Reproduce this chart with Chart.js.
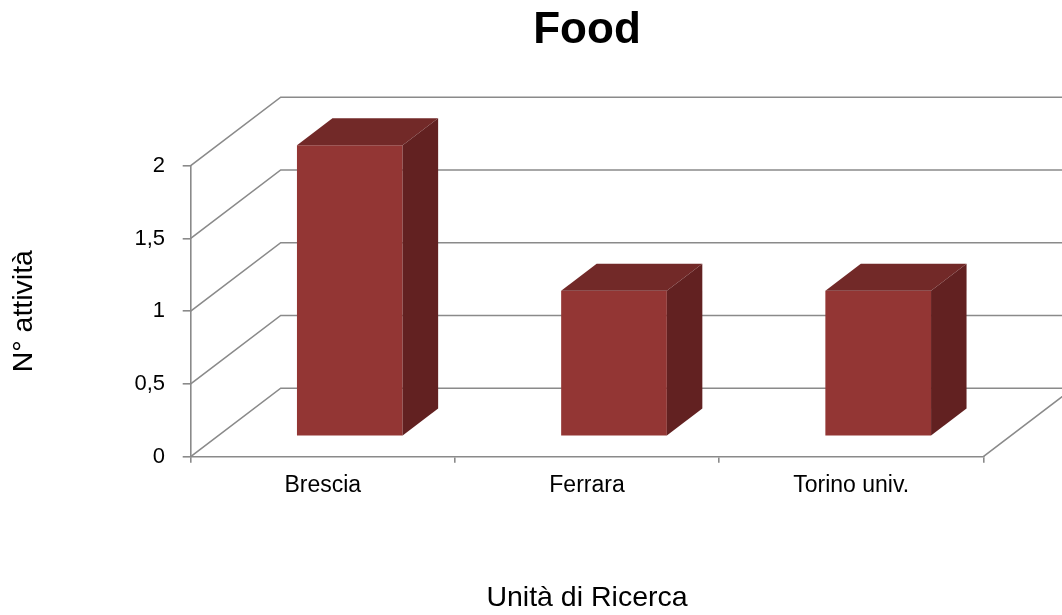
<!DOCTYPE html>
<html>
<head>
<meta charset="utf-8">
<style>
  html, body { margin: 0; padding: 0; background: #ffffff; }
  #wrap { width: 1062px; height: 615px; position: relative; }
</style>
<script src="https://cdn.jsdelivr.net/npm/chart.js@4.4.1/dist/chart.umd.min.js"></script>
</head>
<body>
<div id="wrap"><canvas id="chart"></canvas></div>
<script>
// Data
const categories = ['Brescia', 'Ferrara', 'Torino univ.'];
const activityCounts = [2, 1, 1];
const yTickLabels = ['0', '0,5', '1', '1,5', '2'];
const chartTitle = 'Food';
const xAxisTitle = 'Unità di Ricerca';
const yAxisTitle = 'N° attività';

// Styling
const FONT = "'Liberation Sans', Arial, sans-serif";
const GRID = '#8a8a8a';
const FRONT_COLOR = '#933634';
const TOP_COLOR = '#722928';
const SIDE_COLOR = '#622121';

// Perspective: depth of the walls, position of the bars inside the box, depth of each bar
const WALL_DX = 90, WALL_DY = -68.5;
const BAR_SHIFT_X = 27, BAR_SHIFT_Y = -20.5;
const BAR_DEPTH_X = 35.5, BAR_DEPTH_Y = -27;

// Draws the side wall, back wall and floor, then extrudes each bar into a box
const box3d = {
  id: 'box3d',
  beforeDatasetsDraw(chart) {
    const { ctx, chartArea: a, scales: { y } } = chart;
    ctx.save();
    ctx.strokeStyle = GRID;
    ctx.lineWidth = 1.6;
    ctx.beginPath();
    y.ticks.forEach(t => {
      const py = y.getPixelForValue(t.value);
      ctx.moveTo(a.left, py);
      ctx.lineTo(a.left + WALL_DX, py + WALL_DY);
      ctx.lineTo(a.right + WALL_DX, py + WALL_DY);
    });
    const floor = y.getPixelForValue(0);
    ctx.moveTo(a.right, floor);
    ctx.lineTo(a.right + WALL_DX, floor + WALL_DY);
    ctx.stroke();
    ctx.restore();

    // bars stand part-way back on the floor
    ctx.save();
    ctx.translate(BAR_SHIFT_X, BAR_SHIFT_Y);
  },
  afterDatasetsDraw(chart) {
    const { ctx } = chart;
    chart.getDatasetMeta(0).data.forEach(bar => {
      const { x, y, base, width } = bar.getProps(['x', 'y', 'base', 'width'], true);
      const l = x - width / 2, r = x + width / 2;
      ctx.fillStyle = TOP_COLOR;
      ctx.beginPath();
      ctx.moveTo(l, y);
      ctx.lineTo(l + BAR_DEPTH_X, y + BAR_DEPTH_Y);
      ctx.lineTo(r + BAR_DEPTH_X, y + BAR_DEPTH_Y);
      ctx.lineTo(r, y);
      ctx.closePath();
      ctx.fill();
      ctx.fillStyle = SIDE_COLOR;
      ctx.beginPath();
      ctx.moveTo(r, y);
      ctx.lineTo(r + BAR_DEPTH_X, y + BAR_DEPTH_Y);
      ctx.lineTo(r + BAR_DEPTH_X, base + BAR_DEPTH_Y);
      ctx.lineTo(r, base);
      ctx.closePath();
      ctx.fill();
    });
    ctx.restore();
  }
};

new Chart(document.getElementById('chart'), {
  type: 'bar',
  data: {
    labels: categories,
    datasets: [{
      data: activityCounts,
      backgroundColor: FRONT_COLOR,
      borderWidth: 0,
      clip: false,
      barPercentage: 0.4,
      categoryPercentage: 1
    }]
  },
  options: {
    responsive: true,
    maintainAspectRatio: false,
    animation: false,
    layout: { padding: { left: 0, right: 78.7, top: 0, bottom: 0 } },
    plugins: {
      legend: { display: false },
      tooltip: { enabled: false },
      title: {
        display: true,
        text: chartTitle,
        fullSize: false,
        color: '#000000',
        font: { family: FONT, size: 44, weight: 'bold' },
        padding: { top: 4, bottom: 108.9 }
      }
    },
    scales: {
      x: {
        offset: true,
        grid: { display: true, drawOnChartArea: false, offset: true, tickLength: 6, color: GRID, lineWidth: 1.6 },
        border: { display: true, color: GRID, width: 1.6 },
        ticks: { color: '#000000', font: { family: FONT, size: 23 }, padding: 9, maxRotation: 0, autoSkip: false },
        title: { display: true, text: xAxisTitle, color: '#000000', font: { family: FONT, size: 28.5 }, padding: { top: 0, bottom: 0 } },
        afterFit(scale) { scale.height = 158.3; }
      },
      y: {
        min: 0,
        max: 2,
        ticks: {
          stepSize: 0.5,
          padding: 17.7,
          color: '#000000',
          font: { family: FONT, size: 22 },
          callback: (value, index) => yTickLabels[index]
        },
        grid: { display: true, drawOnChartArea: false, tickLength: 8, color: GRID, lineWidth: 1.6 },
        border: { display: true, color: GRID, width: 1.6 },
        title: { display: true, text: yAxisTitle, color: '#000000', font: { family: FONT, size: 28.5 }, padding: { top: 7, bottom: 0 } },
        afterFit(scale) { scale.width = 190.7; }
      }
    }
  },
  plugins: [box3d]
});
</script>
</body>
</html>
